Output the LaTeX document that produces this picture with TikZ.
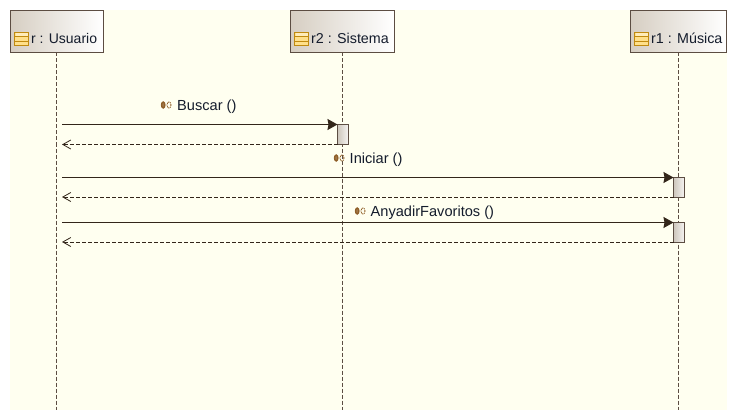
\documentclass[tikz,border=0pt]{standalone}
\usepackage{fontspec}
\setmainfont{Liberation Sans}
\usetikzlibrary{arrows.meta}
\definecolor{bgy}{HTML}{FFFFF0}
\definecolor{edgeb}{HTML}{5C4D42}
\definecolor{linec}{HTML}{33261A}
\definecolor{txt}{HTML}{141C2C}
\definecolor{headl}{HTML}{D6CEC2}
\definecolor{iconb}{HTML}{8F5F28}
\definecolor{icony}{HTML}{FFE08A}
\definecolor{icono}{HTML}{C08A10}
\tikzset{
  headbox/.style={draw=edgeb,line width=1pt,left color=headl,right color=white,rectangle,minimum height=42,inner sep=0pt,outer sep=0pt,anchor=north west},
  headtext/.style={font=\fontsize{14.3}{14}\selectfont,text=txt,anchor=base west,inner sep=0pt},
  msgtext/.style={font=\fontsize{14.6}{14}\selectfont,text=txt,anchor=base west,inner sep=0pt},
  lifeline/.style={draw=edgeb,line width=1pt,dash pattern=on 4pt off 2pt},
  actbox/.style={draw=edgeb,line width=1pt,left color=headl!90!gray,right color=headl!25!white,rectangle,minimum width=10.5,inner sep=0pt,outer sep=0pt,anchor=north west},
  callmsg/.style={draw=linec,line width=1pt,-{Stealth[length=10pt,width=11pt,inset=1pt,fill=linec]}},
  retmsg/.style={draw=linec,line width=1pt,dash pattern=on 3.5pt off 2.5pt,-{Straight Barb[length=8pt,width=9pt,line width=0.8pt]}},
}
\newcommand{\classicon}[2]{%
  \draw[icono,line width=1pt,fill=icony] (#1,#2) rectangle ++(14,13);
  \fill[white!40!icony] (#1+1,#2+1) rectangle ++(12,3.5);
  \draw[icono,line width=0.8pt] (#1,#2+4) -- ++(14,0) (#1,#2+8.5) -- ++(14,0);
}
\newcommand{\msgicon}[2]{%
  \draw[iconb,line width=1.3pt,fill=iconb!85!white] (#1+2.2,#2) ellipse [x radius=1.7,y radius=3];
  \draw[iconb,line width=0.9pt,dash pattern=on 1pt off 0.8pt] (#1+8,#2) ellipse [x radius=2,y radius=3];
}
\begin{document}
\begin{tikzpicture}[x=1pt,y=-1pt]
\useasboundingbox (0,0) rectangle (737,420);
\fill[bgy] (10,10) rectangle (727,410);

\coordinate (endA) at (56.5,410);
\coordinate (endB) at (342.5,410);
\coordinate (endC) at (678.5,410);

\node[headbox,minimum width=92.5] (headA) at (10.5,10.5) {};
\node[headbox,minimum width=103.5] (headB) at (290.5,10.5) {};
\node[headbox,minimum width=96] (headC) at (630.5,10.5) {};

\path[lifeline] (headA.south -| endA) -- (endA);
\path[lifeline] (headB.south -| endB) -- (endB);
\path[lifeline] (headC.south -| endC) -- (endC);

\classicon{14.5}{32.5}
\classicon{294.5}{32.5}
\classicon{634.5}{32.5}
\node[headtext,font=\fontsize{14}{14}\selectfont] (labA) at (31,44) {r : Usuario};
\node[headtext] (labB) at (311,44) {r2 : Sistema};
\node[headtext] (labC) at (651,44) {r1 : Música};

\node[actbox,minimum height=20] (act1) at (337.5,124.5) {};
\node[actbox,minimum height=19.5] (act2) at (673.5,177.5) {};
\node[actbox,minimum height=19.5] (act3) at (673.5,222.5) {};

\coordinate (s1) at (62,124.5);
\coordinate (r1) at (62,144.5);
\coordinate (s2) at (62,177.5);
\coordinate (r2) at (62,197);
\coordinate (s3) at (62,222.5);
\coordinate (r3) at (62,242);

\draw[callmsg] (s1) -- (act1.north west);
\draw[retmsg] (act1.south west) -- (r1);
\draw[callmsg] (s2) -- (act2.north west);
\draw[retmsg] (act2.south west) -- (r2);
\draw[callmsg] (s3) -- (act3.north west);
\draw[retmsg] (act3.south west) -- (r3);

\msgicon{161}{105}
\msgicon{334}{158}
\msgicon{355}{211}
\node[msgtext] (m1) at (177,110.6) {Buscar ()};
\node[msgtext] (m2) at (349.5,163.6) {Iniciar ()};
\node[msgtext] (m3) at (370.5,216.6) {AnyadirFavoritos ()};
\end{tikzpicture}
\end{document}
